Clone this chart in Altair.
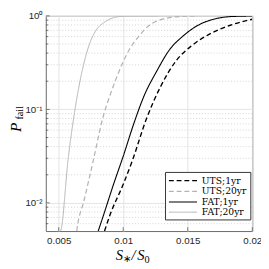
import altair as alt
import pandas as pd

series_names = ["UTS;1yr", "UTS;20yr", "FAT;1yr", "FAT;20yr"]

uts1_x = [0.00855, 0.0090, 0.0100, 0.0107, 0.0118, 0.0129, 0.0141, 0.0153, 0.0168, 0.0183, 0.0200]
uts1_p = [0.005, 0.0076, 0.0158, 0.0282, 0.0794, 0.176, 0.331, 0.479, 0.65, 0.794, 0.92]

uts20_x = [0.0064, 0.00644, 0.00693, 0.00766, 0.0084, 0.0091, 0.0099, 0.0105, 0.0112, 0.0117, 0.0129, 0.0146, 0.0158]
uts20_p = [0.005, 0.0055, 0.0102, 0.0277, 0.0794, 0.158, 0.302, 0.443, 0.603, 0.724, 0.912, 0.989, 1.0]

fat1_x = [0.00806, 0.0085, 0.0092, 0.0100, 0.0108, 0.0116, 0.0126, 0.0136, 0.0146, 0.0158, 0.0170, 0.0182, 0.0195, 0.0200]
fat1_p = [0.005, 0.0076, 0.0151, 0.0316, 0.0692, 0.138, 0.257, 0.437, 0.603, 0.794, 0.92, 0.98, 0.995, 1.0]

fat20_x = [0.00515, 0.00522, 0.00571, 0.0062, 0.00693, 0.00742, 0.0079, 0.00852, 0.00925, 0.00998, 0.0108, 0.0127]
fat20_p = [0.005, 0.0055, 0.0277, 0.0879, 0.302, 0.516, 0.703, 0.851, 0.955, 0.991, 1.0, 1.0]

x_ticks = [0.005, 0.01, 0.015, 0.02]
y_ticks = [0.01, 0.1, 1]
y_minor = [0.006, 0.007, 0.008, 0.009,
           0.02, 0.03, 0.04, 0.05, 0.06, 0.07, 0.08, 0.09,
           0.2, 0.3, 0.4, 0.5, 0.6, 0.7, 0.8, 0.9]

rows = []
for name, xs, ps in zip(series_names, [uts1_x, uts20_x, fat1_x, fat20_x], [uts1_p, uts20_p, fat1_p, fat20_p]):
    for xv, pv in zip(xs, ps):
        rows.append({"x": xv, "p": pv, "series": name})
df = pd.DataFrame(rows)

W, H = 213, 222
xscale = alt.Scale(domain=[0.004, 0.02], nice=False, zero=False)
yscale = alt.Scale(type="log", domain=[0.005, 1], nice=False)

GRID = "#e3e3e3"
TXT = "#262626"
SANS = "Liberation Sans"
SERIF = "DejaVu Serif"
TSERIF = "Liberation Serif"

xaxis = alt.Axis(values=x_ticks, format="~g", title=None, grid=True, gridColor=GRID,
                 ticks=False, domain=False, labelFont=SANS, labelFontSize=10,
                 labelColor=TXT, labelPadding=5, labelFlush=False)
yaxis = alt.Axis(values=y_ticks, title=None, grid=True, gridColor=GRID,
                 labelExpr="datum.value >= 0.5 ? '10⁰' : (datum.value >= 0.05 ? '10⁻¹' : '10⁻²')",
                 ticks=False, domain=False, labelFont=SANS, labelFontSize=10,
                 labelColor=TXT, labelPadding=4)

minor_df = pd.DataFrame({"v": y_minor})
major_df = pd.DataFrame({"v": y_ticks})
xt_df = pd.DataFrame({"u": x_ticks})

minor_grid = alt.Chart(minor_df).mark_rule(
    strokeDash=[1, 2], color="#c8c8c8", strokeWidth=0.8
).encode(y=alt.Y("v:Q", scale=yscale, axis=yaxis))

minor_ticks = alt.Chart(minor_df).mark_rule(color="#555", strokeWidth=0.8).encode(
    y=alt.Y("v:Q", scale=yscale, axis=yaxis), x=alt.value(0), x2=alt.value(2.5))

major_yticks = alt.Chart(major_df).mark_rule(color="#555", strokeWidth=0.8).encode(
    y=alt.Y("v:Q", scale=yscale, axis=yaxis), x=alt.value(0), x2=alt.value(4))

major_xticks = alt.Chart(xt_df).mark_rule(color="#555", strokeWidth=0.8).encode(
    x=alt.X("u:Q", scale=xscale, axis=xaxis), y=alt.value(H), y2=alt.value(H - 4))

lines = alt.Chart(df).mark_line(clip=True, interpolate="monotone").encode(
    x=alt.X("x:Q", scale=xscale, axis=xaxis),
    y=alt.Y("p:Q", scale=yscale, axis=yaxis),
    color=alt.Color("series:N", scale=alt.Scale(domain=series_names,
                    range=["#000000", "#b3b3b3", "#000000", "#b3b3b3"]),
                    legend=alt.Legend(orient="none", legendX=123, legendY=161, title=None,
                                      symbolType="M-2.9,0H2.9", symbolSize=100,
                                      symbolOffset=9.5, labelOffset=13.5,
                                      labelFont=SERIF, labelFontSize=9.5, labelColor="black",
                                      fillColor="white", strokeColor="#333",
                                      padding=3, rowPadding=0)),
    strokeDash=alt.StrokeDash("series:N", scale=alt.Scale(domain=series_names,
                              range=[[5, 3], [5, 3], [1, 0], [1, 0]])),
    strokeWidth=alt.StrokeWidth("series:N", scale=alt.Scale(domain=series_names,
                                range=[1.4, 1.0, 1.4, 1.0])),
    order=alt.Order("x:Q"),
)

one = alt.Data(values=[{}])

def txt(s, x, y, size, italic=True, angle=0, baseline="alphabetic"):
    kw = dict(font=TSERIF, fontSize=size, color="black", align="center", baseline=baseline)
    if italic:
        kw["fontStyle"] = "italic"
    if angle:
        kw["angle"] = angle
    return alt.Chart(one).mark_text(**kw).encode(
        x=alt.value(x), y=alt.value(y), text=alt.value(s))

labels = [
    txt("P", -31, 115, 16, angle=270, baseline="middle"),
    txt("fail", -26.5, 100, 10.5, italic=False, angle=270, baseline="middle"),
    txt("S", 76, 251.5, 15),
    txt("∗", 83.5, 253.5, 10, italic=False),
    txt("/", 90.5, 251.5, 15),
    txt("S", 98, 251.5, 15),
    txt("0", 104.5, 254.5, 10.5, italic=False),
]

chart = alt.layer(minor_grid, lines, minor_ticks, major_yticks, major_xticks, *labels).properties(
    width=W, height=H,
    autosize=alt.AutoSizeParams(type="none"),
    padding={"left": 39, "top": 4, "right": 9, "bottom": 35},
).configure_view(stroke="#666", strokeWidth=1)

chart.save("out.html", embed_options={"renderer": "svg", "actions": False})
